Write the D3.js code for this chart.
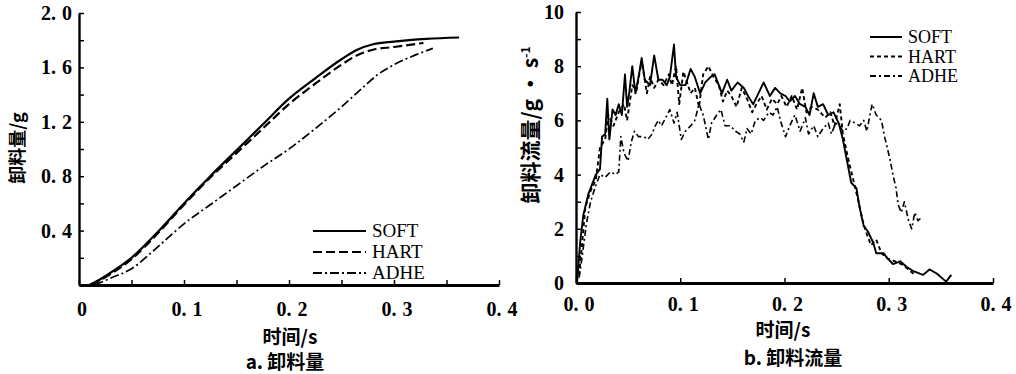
<!DOCTYPE html>
<html>
<head>
<meta charset="utf-8">
<script src="https://cdn.jsdelivr.net/npm/d3@7"></script>
<style>
  body { margin: 0; background: #fff; }
  svg { display: block; }
</style>
</head>
<body>
<svg id="chart" width="1016" height="374"></svg>
<script>
// a. 卸料量 (g) vs 时间 (s)
const massSoft = [[0.010,0],[0.020,0.04],[0.030,0.09],[0.050,0.20],[0.075,0.39],[0.100,0.60],[0.125,0.80],[0.150,0.99],[0.175,1.18],[0.200,1.37],[0.225,1.52],[0.250,1.66],[0.265,1.73],[0.280,1.77],[0.300,1.79],[0.331,1.81],[0.362,1.82]];
const massHart = [[0.012,0],[0.030,0.08],[0.050,0.19],[0.075,0.38],[0.100,0.59],[0.125,0.79],[0.150,0.97],[0.175,1.15],[0.200,1.33],[0.225,1.48],[0.250,1.62],[0.265,1.69],[0.280,1.73],[0.300,1.75],[0.328,1.78]];
const massAdhe = [[0.015,0],[0.030,0.05],[0.050,0.12],[0.075,0.28],[0.100,0.45],[0.125,0.59],[0.150,0.73],[0.175,0.87],[0.200,1.00],[0.225,1.15],[0.250,1.31],[0.270,1.45],[0.285,1.55],[0.300,1.62],[0.320,1.69],[0.337,1.74]];

// b. 卸料流量 (g/s) vs 时间 (s)
const flowSoft = [[0.001,0],[0.004,1.5],[0.007,2.5],[0.012,3.3],[0.019,4.0],[0.023,4.2],[0.025,5.4],[0.028,5.5],[0.030,6.8],[0.032,5.3],[0.035,6.4],[0.038,6.2],[0.041,6.6],[0.044,6.2],[0.047,7.7],[0.049,6.5],[0.051,7.0],[0.054,8.0],[0.057,7.0],[0.060,7.6],[0.063,8.3],[0.066,7.5],[0.071,7.3],[0.075,8.4],[0.079,7.5],[0.083,7.5],[0.087,7.3],[0.090,7.6],[0.094,8.8],[0.096,7.6],[0.100,7.3],[0.105,7.3],[0.110,7.9],[0.114,7.6],[0.119,7.0],[0.124,7.4],[0.129,7.6],[0.133,7.7],[0.140,7.0],[0.145,7.5],[0.149,7.1],[0.155,7.4],[0.161,7.2],[0.165,6.9],[0.170,6.6],[0.175,7.0],[0.180,7.4],[0.186,6.9],[0.191,7.2],[0.196,7.0],[0.201,6.9],[0.205,6.7],[0.210,6.9],[0.215,6.6],[0.220,6.5],[0.224,6.2],[0.228,7.0],[0.232,6.5],[0.237,6.6],[0.242,6.2],[0.247,6.3],[0.252,5.9],[0.256,5.3],[0.260,4.5],[0.264,3.7],[0.269,3.5],[0.272,2.8],[0.276,2.1],[0.280,1.9],[0.285,1.5],[0.288,1.1],[0.295,1.1],[0.299,0.9],[0.304,0.7],[0.311,0.8],[0.317,0.6],[0.323,0.45],[0.333,0.3],[0.339,0.5],[0.346,0.35],[0.355,0.05],[0.360,0.3]];
const flowHart = [[0.003,0.3],[0.006,1.5],[0.009,2.8],[0.014,3.4],[0.019,3.8],[0.023,5.0],[0.028,5.3],[0.031,6.2],[0.036,5.8],[0.041,6.3],[0.046,6.6],[0.049,6.0],[0.054,7.3],[0.058,7.1],[0.063,8.2],[0.068,7.0],[0.071,7.6],[0.075,7.2],[0.079,7.5],[0.084,7.3],[0.089,7.7],[0.092,7.3],[0.096,8.0],[0.099,6.6],[0.103,7.8],[0.110,7.0],[0.114,7.2],[0.118,6.5],[0.122,7.7],[0.127,8.0],[0.132,7.6],[0.137,7.3],[0.141,6.7],[0.145,7.1],[0.149,6.9],[0.154,6.5],[0.159,7.2],[0.164,6.8],[0.169,6.3],[0.173,6.6],[0.178,6.9],[0.183,6.4],[0.188,6.8],[0.193,6.6],[0.197,6.9],[0.202,6.5],[0.207,6.9],[0.212,6.4],[0.217,7.2],[0.221,6.3],[0.226,6.5],[0.232,6.4],[0.239,6.1],[0.244,6.3],[0.248,5.8],[0.253,6.6],[0.256,5.5],[0.261,4.6],[0.266,3.8],[0.271,3.0],[0.275,2.3],[0.279,1.8],[0.283,1.4],[0.288,1.6],[0.293,1.1],[0.299,0.9],[0.306,0.8],[0.312,0.7],[0.319,0.5],[0.325,0.3]];
const flowAdhe = [[0.003,0.2],[0.006,1.0],[0.010,2.2],[0.014,3.0],[0.019,3.6],[0.023,4.0],[0.028,3.9],[0.033,4.1],[0.038,4.0],[0.041,4.1],[0.043,5.4],[0.046,4.8],[0.050,4.5],[0.053,5.2],[0.056,5.6],[0.060,5.4],[0.065,5.4],[0.069,5.3],[0.073,5.5],[0.076,5.8],[0.079,6.0],[0.082,5.8],[0.086,6.1],[0.090,6.4],[0.094,5.9],[0.097,6.3],[0.101,5.3],[0.105,5.6],[0.110,5.8],[0.114,6.0],[0.118,6.6],[0.122,6.2],[0.127,5.3],[0.130,5.9],[0.135,6.2],[0.139,6.4],[0.143,5.8],[0.148,5.8],[0.153,5.6],[0.157,5.5],[0.161,5.2],[0.164,5.7],[0.168,5.5],[0.172,6.0],[0.177,6.1],[0.180,6.0],[0.185,6.3],[0.189,6.2],[0.193,6.5],[0.196,6.0],[0.201,5.4],[0.205,5.8],[0.210,6.2],[0.215,5.6],[0.220,6.1],[0.223,5.5],[0.228,5.8],[0.232,5.4],[0.237,5.7],[0.242,5.9],[0.245,5.5],[0.249,5.9],[0.253,5.8],[0.256,5.6],[0.260,5.7],[0.263,6.0],[0.268,5.9],[0.272,5.8],[0.276,6.0],[0.279,5.6],[0.284,6.6],[0.288,6.2],[0.293,6.0],[0.296,5.4],[0.301,4.6],[0.304,4.0],[0.307,3.5],[0.309,2.9],[0.312,2.6],[0.315,3.0],[0.319,2.3],[0.322,2.0],[0.325,2.6],[0.328,2.3],[0.331,2.4]];

const seriesNames = ["SOFT", "HART", "ADHE"];
const timeTicks = [0, 0.1, 0.2, 0.3, 0.4];
const massTicks = [0.4, 0.8, 1.2, 1.6, 2.0];
const flowTicks = [0, 2, 4, 6, 8, 10];

const svg = d3.select("#chart");
const numFont = "'Liberation Serif', serif";
const cnFont = "'Noto Sans CJK SC', sans-serif";

// numbers like "0.1" are typeset with a wide gap after the point
function numLabel(sel, str) {
  const k = str.indexOf(".");
  if (k < 0) { sel.text(str); return; }
  sel.append("tspan").text(str.slice(0, k + 1));
  sel.append("tspan").attr("dx", 6).text(str.slice(k + 1));
}

function drawPanel(opt) {
  const g = svg.append("g");
  const x = d3.scaleLinear().domain([0, 0.4]).range([opt.x0, opt.x1]);
  const y = d3.scaleLinear().domain([0, opt.ymax]).range([opt.y0, opt.y1]);

  // x axis, ticks pointing inward
  g.append("g")
    .attr("transform", `translate(0,${opt.y0})`)
    .call(d3.axisBottom(x).tickValues(opt.xMinor).tickSizeInner(-5).tickSizeOuter(0).tickFormat(""))
    .call(s => s.select(".domain").attr("stroke-width", 2.8))
    .call(s => s.selectAll(".tick line").attr("stroke-width", 1.5));
  g.selectAll(".xlab").data(timeTicks).join("text")
    .attr("x", d => x(d) + 3)
    .attr("y", opt.y0 + opt.xLabDy)
    .attr("text-anchor", "middle")
    .attr("font-family", numFont).attr("font-weight", "bold").attr("font-size", 20)
    .each(function (d) { numLabel(d3.select(this), opt.xFormat(d)); });

  // y axis
  g.append("g")
    .attr("transform", `translate(${opt.x0},0)`)
    .call(d3.axisLeft(y).tickValues(opt.yMinor).tickSizeInner(-5).tickSizeOuter(0).tickFormat(""))
    .call(s => s.select(".domain").attr("stroke-width", 2.4))
    .call(s => s.selectAll(".tick line").attr("stroke-width", 1.5));
  g.selectAll(".ylab").data(opt.yTicks).join("text")
    .attr("x", opt.x0 - opt.yLabGap)
    .attr("y", d => y(d) + 7)
    .attr("text-anchor", "end")
    .attr("font-family", numFont).attr("font-weight", "bold").attr("font-size", 20)
    .each(function (d) { numLabel(d3.select(this), opt.yFormat(d)); });

  const line = d3.line().x(d => x(d[0])).y(d => y(d[1])).curve(opt.curve);
  opt.series.forEach((s, i) => {
    g.append("path")
      .attr("d", line(s))
      .attr("fill", "none")
      .attr("stroke", "#000")
      .attr("stroke-width", opt.widths[i])
      .attr("stroke-linejoin", "round")
      .attr("stroke-dasharray", opt.dashes[i]);
  });

  // legend
  seriesNames.forEach((name, i) => {
    const ly = opt.legY + i * opt.legGap;
    g.append("line")
      .attr("x1", opt.legX).attr("x2", opt.legX + opt.legLen)
      .attr("y1", ly).attr("y2", ly)
      .attr("stroke", "#000").attr("stroke-width", 2)
      .attr("stroke-dasharray", opt.dashes[i]);
    g.append("text")
      .attr("x", opt.legX + opt.legLen + 6)
      .attr("y", ly + 6)
      .attr("font-family", numFont)
      .attr("font-size", opt.legSize)
      .text(name);
  });

  // titles
  g.append("text")
    .attr("x", opt.xTitleX).attr("y", opt.y0 + opt.xTitleDy)
    .attr("font-family", cnFont).attr("font-weight", "bold").attr("font-size", 19)
    .attr("text-anchor", "middle").text("时间/s");
  g.append("text")
    .attr("x", opt.capX).attr("y", opt.y0 + opt.capDy)
    .attr("font-family", cnFont).attr("font-weight", "bold").attr("font-size", 19)
    .attr("text-anchor", "middle").text(opt.caption);
  const yt = g.append("text")
    .attr("transform", `translate(${opt.yTitleX},${opt.yTitleY}) rotate(-90)`)
    .attr("font-family", cnFont).attr("font-weight", "bold").attr("font-size", opt.yTitleSize)
    .attr("text-anchor", "middle");
  yt.append("tspan").text(opt.yTitle);
  if (opt.yTitleSup) {
    yt.append("tspan").attr("dy", -8).attr("font-size", 12).text(opt.yTitleSup);
  }
}

drawPanel({
  x0: 79, x1: 499, y0: 285, y1: 13, ymax: 2,
  xMinor: d3.range(0, 0.41, 0.05), yMinor: d3.range(0, 2.01, 0.2),
  yTicks: massTicks, xLabDy: 31, yLabGap: 7,
  xFormat: d => d === 0 ? "0" : d3.format(".1f")(d),
  yFormat: d3.format(".1f"),
  curve: d3.curveMonotoneX,
  series: [massSoft, massHart, massAdhe],
  widths: [2.2, 2.2, 1.7],
  dashes: [null, "9,4", "9,3,2,3"],
  legX: 313, legY: 231, legGap: 21, legLen: 53, legSize: 19,
  xTitleX: 290, xTitleDy: 59, capX: 285, capDy: 84, caption: "a. 卸料量",
  yTitle: "卸料量/g", yTitleSize: 18, yTitleX: 24, yTitleY: 148
});

drawPanel({
  x0: 576, x1: 993, y0: 283, y1: 12, ymax: 10,
  xMinor: timeTicks, yMinor: d3.range(0, 10.1, 1),
  yTicks: flowTicks, xLabDy: 28, yLabGap: 12,
  xFormat: d3.format(".1f"),
  yFormat: d => String(d),
  curve: d3.curveLinear,
  series: [flowSoft, flowHart, flowAdhe],
  widths: [1.9, 1.9, 1.6],
  dashes: [null, "4,3", "6,3,2,3"],
  legX: 870, legY: 37, legGap: 19.5, legLen: 32, legSize: 18,
  xTitleX: 783, xTitleDy: 54, capX: 793, capDy: 82, caption: "b. 卸料流量",
  yTitle: "卸料流量/g · s", yTitleSup: "-1", yTitleSize: 21, yTitleX: 538, yTitleY: 125
});
</script>
</body>
</html>
